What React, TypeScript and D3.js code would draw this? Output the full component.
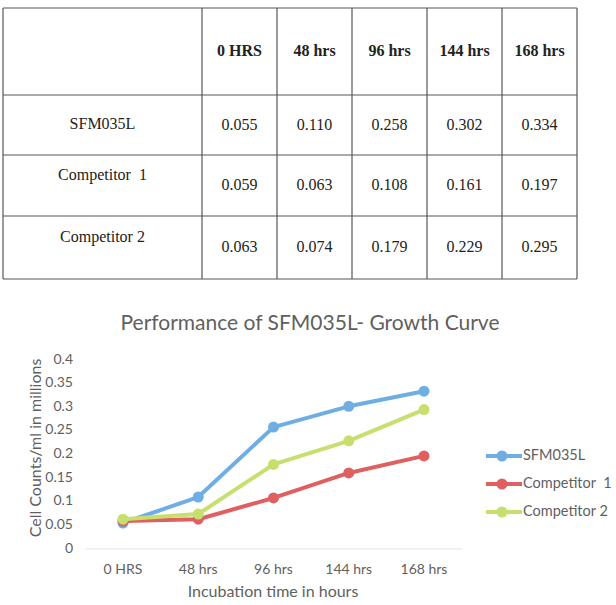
import React from "react";
import * as d3 from "d3";

const headers = ["0 HRS", "48 hrs", "96 hrs", "144 hrs", "168 hrs"];
const seriesNames = ["SFM035L", "Competitor  1", "Competitor 2"];
const tableLabels = ["SFM035L", "Competitor  1", "Competitor 2"];
const sfm035l = [0.055, 0.11, 0.258, 0.302, 0.334];
const competitor1 = [0.059, 0.063, 0.108, 0.161, 0.197];
const competitor2 = [0.063, 0.074, 0.179, 0.229, 0.295];
const tableText = [
  ["0.055", "0.110", "0.258", "0.302", "0.334"],
  ["0.059", "0.063", "0.108", "0.161", "0.197"],
  ["0.063", "0.074", "0.179", "0.229", "0.295"],
];
const yTicks = [0, 0.05, 0.1, 0.15, 0.2, 0.25, 0.3, 0.35, 0.4];
const colors = ["#6eaee3", "#e06062", "#c7df6e"];

export default function App() {
  const series = [sfm035l, competitor1, competitor2];
  // table geometry
  const colX = [3, 202, 277, 352, 427, 502, 577];
  const rowY = [8, 95, 155, 216, 279];
  const labelDy = [0, -9, -9];
  const gridColor = "#5a5550";

  const x = d3.scalePoint<string>().domain(headers).range([123, 424]);
  const y = d3.scaleLinear().domain([0, 0.4]).range([549, 360]);
  const line = d3
    .line<number>()
    .x((_, i) => x(headers[i]) as number)
    .y((d) => y(d));

  const gray = "#5f5f5f";
  const sans = "Lato, 'Open Sans', sans-serif";
  const serif = "'Liberation Serif', 'Times New Roman', serif";

  return (
    <div style={{ position: "absolute", left: 0, top: 0 }}>
      <svg width={616} height={605} style={{ display: "block", background: "#fff" }}>
        {/* Table */}
        <g>
          {rowY.map((ry, i) => (
            <line key={"h" + i} x1={colX[0]} x2={colX[colX.length - 1]} y1={ry} y2={ry} stroke={gridColor} strokeWidth={1.2} />
          ))}
          {colX.map((cx, i) => (
            <line key={"v" + i} x1={cx} x2={cx} y1={rowY[0]} y2={rowY[rowY.length - 1]} stroke={gridColor} strokeWidth={1.2} />
          ))}
          {headers.map((h, i) => (
            <text key={"th" + i} x={(colX[i + 1] + colX[i + 2]) / 2} y={(rowY[0] + rowY[1]) / 2 + 1} textAnchor="middle" dominantBaseline="middle" fontFamily={serif} fontWeight="bold" fontSize={16} fill="#222">
              {h}
            </text>
          ))}
          {tableLabels.map((lbl, r) => (
            <text key={"rl" + r} x={(colX[0] + colX[1]) / 2} y={(rowY[r + 1] + rowY[r + 2]) / 2 + labelDy[r]} textAnchor="middle" dominantBaseline="middle" fontFamily={serif} fontSize={16} fill="#222" style={{ whiteSpace: "pre" }}>
              {lbl}
            </text>
          ))}
          {tableText.map((row, r) =>
            row.map((v, c) => (
              <text key={"c" + r + "-" + c} x={(colX[c + 1] + colX[c + 2]) / 2} y={(rowY[r + 1] + rowY[r + 2]) / 2 + 1} textAnchor="middle" dominantBaseline="middle" fontFamily={serif} fontSize={16} fill="#222">
                {v}
              </text>
            ))
          )}
        </g>

        {/* Chart */}
        <text x={310} y={325} textAnchor="middle" dominantBaseline="middle" fontFamily={sans} fontSize={21} fill={gray}>
          Performance of SFM035L- Growth Curve
        </text>
        <line x1={85} x2={462} y1={y(0)} y2={y(0)} stroke="#e4e4e4" strokeWidth={1} />
        {yTicks.map((t) => (
          <text key={"yt" + t} x={73} y={y(t)} textAnchor="end" dominantBaseline="middle" fontFamily={sans} fontSize={14} fill={gray}>
            {String(t)}
          </text>
        ))}
        {headers.map((h) => (
          <text key={"xt" + h} x={x(h)} y={570} textAnchor="middle" dominantBaseline="middle" fontFamily={sans} fontSize={14} fill={gray}>
            {h}
          </text>
        ))}
        <text x={273} y={593} textAnchor="middle" dominantBaseline="middle" fontFamily={sans} fontSize={16} fill={gray}>
          Incubation time in hours
        </text>
        <text transform={`translate(37,448) rotate(-90)`} textAnchor="middle" dominantBaseline="middle" fontFamily={sans} fontSize={16} fill={gray}>
          Cell Counts/ml in millions
        </text>
        {series.map((s, si) => (
          <g key={"s" + si}>
            <path d={line(s) || ""} fill="none" stroke={colors[si]} strokeWidth={4} strokeLinejoin="round" />
            {s.map((v, i) => (
              <circle key={i} cx={x(headers[i])} cy={y(v)} r={5.5} fill={colors[si]} />
            ))}
          </g>
        ))}
        {/* Legend */}
        {seriesNames.map((n, i) => (
          <g key={"lg" + i} transform={`translate(0,${456 + i * 28})`}>
            <line x1={486} x2={522} y1={0} y2={0} stroke={colors[i]} strokeWidth={4} />
            <circle cx={502} cy={0} r={5.5} fill={colors[i]} />
            <text x={523} y={0} dominantBaseline="middle" fontFamily={sans} fontSize={14.5} fill={gray} style={{ whiteSpace: "pre" }}>
              {n}
            </text>
          </g>
        ))}
      </svg>
    </div>
  );
}
